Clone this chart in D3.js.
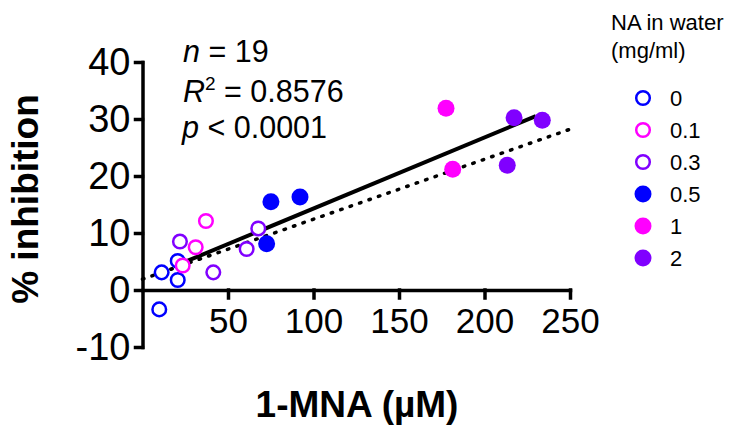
<!DOCTYPE html>
<html>
<head>
<meta charset="utf-8">
<script src="https://cdn.jsdelivr.net/npm/d3@7"></script>
<style>
  body { margin: 0; background: #fff; }
  svg { display: block; font-family: "Liberation Sans", Arial, sans-serif; }
</style>
</head>
<body>
<div id="chart"></div>
<script>
// Groups (NA in water, mg/ml)
const groupLabels = ["0", "0.1", "0.3", "0.5", "1", "2"];
const groupColors = ["#0000ff", "#ff00ff", "#8000ff", "#0000ff", "#ff00ff", "#8000ff"];
const groupFilled = [false, false, false, true, true, true];

// Points
const mnaValues =        [11.2, 20.6, 20.6, 9.8, 37.1, 31.1, 23.5, 21.9, 41.4, 60.9, 67.7, 75.1, 92.1, 72.6, 177.5, 181.4, 217.3, 233.8, 213.3];
const inhibitionValues = [3.1, 5.1, 1.75, -3.4, 12.1, 7.5, 4.3, 8.5, 3.1, 7.2, 10.8, 15.5, 16.3, 8.1, 31.9, 21.2, 30.2, 29.8, 21.9];
const pointGroups =      ["0", "0", "0", "0", "0.1", "0.1", "0.1", "0.3", "0.3", "0.3", "0.3", "0.5", "0.5", "0.5", "1", "1", "2", "2", "2"];

// Fit lines (end points)
const solidFit = [[23, 4.7], [230, 30.5]];
const dottedFit = [[0, 1.9], [250, 28.2]];

// Ticks
const xTicks = [50, 100, 150, 200, 250];
const yTicks = [-10, 0, 10, 20, 30, 40];

const width = 730;
const height = 427;

const svg = d3.select("#chart")
    .append("svg")
    .attr("width", width)
    .attr("height", height);

const xScale = d3.scaleLinear().domain([0, 250]).range([142.5, 570]);
const yScale = d3.scaleLinear().domain([-10, 40]).range([347, 62]);

// Y axis (plain hyphen for negatives)
const yAxis = svg.append("g")
    .attr("transform", `translate(${xScale(0)},0)`)
    .call(d3.axisLeft(yScale).tickValues(yTicks).tickFormat(d => String(d))
        .tickSize(7).tickSizeOuter(0).tickPadding(5));
yAxis.selectAll("text").style("font-size", "38px").attr("fill", "#000");

// X axis
const xAxis = svg.append("g")
    .attr("transform", `translate(0,${yScale(0)})`)
    .call(d3.axisBottom(xScale).tickValues(xTicks).tickFormat(d => String(d))
        .tickSize(8).tickSizeOuter(0).tickPadding(10));
xAxis.selectAll("text").style("font-size", "35px").attr("fill", "#000");

svg.selectAll(".domain, .tick line")
    .attr("stroke", "#000")
    .attr("stroke-width", 3.5)
    .attr("stroke-linecap", "square");
svg.selectAll("g text").style("font-family", "'Liberation Sans', Arial, sans-serif");

// Axis titles
svg.append("text")
    .attr("x", 357)
    .attr("y", 417)
    .attr("text-anchor", "middle")
    .style("font-size", "37px")
    .style("font-weight", "bold")
    .text("1-MNA (µM)");

svg.append("text")
    .attr("transform", "translate(38,199) rotate(-90)")
    .attr("text-anchor", "middle")
    .style("font-size", "37px")
    .style("font-weight", "bold")
    .text("% inhibition");

// Fit lines
const line = d3.line()
    .x(d => xScale(d[0]))
    .y(d => yScale(d[1]));

svg.append("path")
    .datum(dottedFit)
    .attr("fill", "none")
    .attr("stroke", "#000")
    .attr("stroke-width", 3.5)
    .attr("stroke-linecap", "round")
    .attr("stroke-dasharray", "1.5 8.5")
    .attr("d", line);

svg.append("path")
    .datum(solidFit)
    .attr("fill", "none")
    .attr("stroke", "#000")
    .attr("stroke-width", 4)
    .attr("d", line);

// Points
const points = mnaValues.map((x, i) => ({x, y: inhibitionValues[i], g: groupLabels.indexOf(pointGroups[i])}));

svg.selectAll("circle.pt")
    .data(points)
    .join("circle")
    .attr("class", "pt")
    .attr("cx", d => xScale(d.x))
    .attr("cy", d => yScale(d.y))
    .attr("r", d => groupFilled[d.g] ? 8.5 : 6.8)
    .attr("fill", d => groupFilled[d.g] ? groupColors[d.g] : "#fff")
    .attr("stroke", d => groupFilled[d.g] ? "none" : groupColors[d.g])
    .attr("stroke-width", 2.5);

// Stats text
const stats = svg.append("g").style("font-size", "30.5px");
const t1 = stats.append("text").attr("x", 183).attr("y", 62);
t1.append("tspan").style("font-style", "italic").text("n");
t1.append("tspan").text(" = 19");

const t2 = stats.append("text").attr("x", 183).attr("y", 102);
t2.append("tspan").style("font-style", "italic").text("R");
t2.append("tspan").attr("dy", -12).style("font-size", "19px").text("2");
t2.append("tspan").attr("dy", 12).text(" = 0.8576");

const t3 = stats.append("text").attr("x", 182).attr("y", 138);
t3.append("tspan").style("font-style", "italic").text("p");
t3.append("tspan").text(" < 0.0001");

// Legend
const legend = svg.append("g");
legend.append("text").attr("x", 611).attr("y", 30).style("font-size", "22px").text("NA in water");
legend.append("text").attr("x", 611).attr("y", 58).style("font-size", "22px").text("(mg/ml)");

const legendY = d3.scalePoint().domain(groupLabels).range([98, 258]);

groupLabels.forEach((label, i) => {
    legend.append("circle")
        .attr("cx", 643)
        .attr("cy", legendY(label))
        .attr("r", groupFilled[i] ? 8.5 : 6.8)
        .attr("fill", groupFilled[i] ? groupColors[i] : "#fff")
        .attr("stroke", groupFilled[i] ? "none" : groupColors[i])
        .attr("stroke-width", 2.5);
    legend.append("text")
        .attr("x", 670)
        .attr("y", legendY(label))
        .attr("dy", "0.35em")
        .style("font-size", "22px")
        .text(label);
});
</script>
</body>
</html>
